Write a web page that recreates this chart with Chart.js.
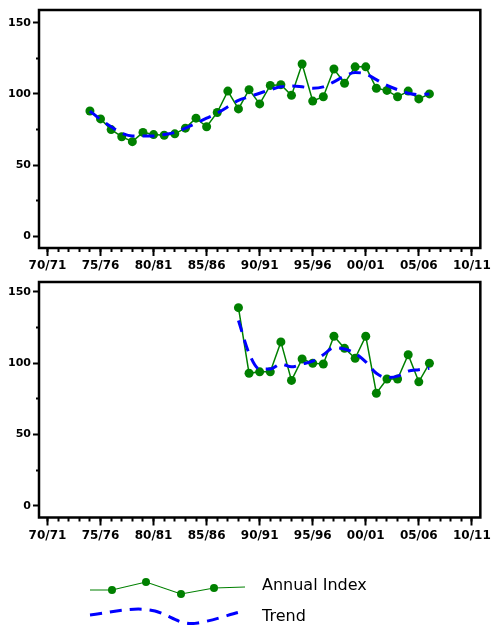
<!DOCTYPE html>
<html>
<head>
<meta charset="utf-8">
<script src="https://cdn.jsdelivr.net/npm/chart.js@4.4.1/dist/chart.umd.min.js"></script>
<style>
  body { margin: 0; background: #fff; }
  #page { position: relative; width: 494px; height: 625px; overflow: hidden; }
  canvas { position: absolute; left: 0; }
</style>
</head>
<body>
<div id="page">
  <canvas id="topChart" width="494" height="280" style="top:0"></canvas>
  <canvas id="bottomChart" width="494" height="280" style="top:272px"></canvas>
  <canvas id="legend" width="494" height="65" style="top:560px"></canvas>
</div>
<script>
// x axis: financial years
const xTickYears = [1970, 1975, 1980, 1985, 1990, 1995, 2000, 2005, 2010];
const xTickLabels = ["70/71", "75/76", "80/81", "85/86", "90/91", "95/96", "00/01", "05/06", "10/11"];
const yTicks = [0, 50, 100, 150];
const yMinorTicks = [25, 75, 125];

// upper panel
const topYears = [1974, 1975, 1976, 1977, 1978, 1979, 1980, 1981, 1982, 1983, 1984,
  1985, 1986, 1987, 1988, 1989, 1990, 1991, 1992, 1993, 1994, 1995,
  1996, 1997, 1998, 1999, 2000, 2001, 2002, 2003, 2004, 2005, 2006];
const topIndex = [88, 82.5, 75, 70, 66.5, 73, 71.5, 71, 72, 76, 83,
  77, 87, 102, 89.5, 103, 93, 106, 106.5, 99, 121, 95,
  98, 117.5, 107.5, 119, 119, 104, 102.5, 98, 102, 96.5, 100];
const topTrend = [88, 82, 77, 72.5, 70.5, 70.5, 70.5, 71.5, 73, 76, 79.5,
  83, 86.5, 91, 95.5, 98, 100.5, 103, 105, 105.5, 105, 104,
  105, 108.5, 112.5, 115, 114, 110, 106, 103, 100.5, 99.5, 100];

// lower panel
const botYears = [1988, 1989, 1990, 1991, 1992, 1993, 1994, 1995, 1996, 1997,
  1998, 1999, 2000, 2001, 2002, 2003, 2004, 2005, 2006];
const botIndex = [139, 93, 94, 94, 115, 88, 103, 100, 99.5, 119,
  110.5, 103.5, 119, 79, 89, 89, 106, 87, 100];
const botTrend = [130, 107, 96, 96, 99.5, 97.5, 99.5, 101.5, 106, 111,
  110, 107, 101, 93, 90, 91, 94.5, 95.5, 96.5];

const GREEN = "#008000";
const BLUE = "#0000ff";

const framePlugin = {
  id: "frame",
  afterDraw(chart) {
    const a = chart.chartArea, ctx = chart.ctx;
    ctx.save();
    ctx.strokeStyle = "#000";
    ctx.lineWidth = 2.5;
    ctx.strokeRect(a.left, a.top, a.right - a.left, a.bottom - a.top);
    ctx.restore();
  }
};

function pts(years, vals) {
  return years.map((y, i) => ({ x: y, y: vals[i] }));
}

function makeChart(id, years, index, trend, yMin, yMax, topPad, xHeight) {
  const xMin = 1969.2, xMax = 2010.8;
  new Chart(document.getElementById(id), {
    type: "line",
    data: {
      datasets: [
        {
          label: "Trend",
          data: pts(years, trend),
          borderColor: BLUE,
          borderWidth: 3,
          borderDash: [12, 8],
          pointRadius: 0,
          cubicInterpolationMode: "monotone",
          order: 0
        },
        {
          label: "Annual Index",
          data: pts(years, index),
          borderColor: GREEN,
          backgroundColor: GREEN,
          borderWidth: 1.5,
          pointRadius: 4.5,
          pointBackgroundColor: GREEN,
          pointBorderWidth: 0,
          tension: 0,
          order: 1
        }
      ]
    },
    options: {
      responsive: false,
      animation: false,
      layout: { padding: { top: topPad, right: 11, left: 0, bottom: 0 } },
      plugins: { legend: { display: false }, tooltip: { enabled: false } },
      scales: {
        x: {
          type: "linear", position: "bottom", min: xMin, max: xMax, weight: 1,
          afterBuildTicks: s => { s.ticks = xTickYears.map(v => ({ value: v })); },
          ticks: {
            callback: (v, i) => xTickLabels[i],
            color: "#000", padding: 3, maxRotation: 0, autoSkip: false,
            font: { family: "DejaVu Sans", weight: "bold", size: 12 }
          },
          grid: { drawOnChartArea: false, tickLength: 8, tickWidth: 2, tickColor: "#000" },
          border: { display: false },
          afterFit: s => { s.height = xHeight; }
        },
        xMinor: {
          type: "linear", position: "bottom", min: xMin, max: xMax, weight: 0,
          afterBuildTicks: s => {
            const out = [];
            for (let v = xTickYears[0]; v <= xTickYears[xTickYears.length - 1]; v++) out.push({ value: v });
            s.ticks = out;
          },
          ticks: { display: false },
          grid: { drawOnChartArea: false, tickLength: 4, tickWidth: 2, tickColor: "#000" },
          border: { display: false },
          afterFit: s => { s.height = 0; }
        },
        y: {
          type: "linear", position: "left", min: yMin, max: yMax, weight: 1,
          afterBuildTicks: s => { s.ticks = yTicks.map(v => ({ value: v })); },
          ticks: {
            color: "#000", padding: 2,
            font: { family: "DejaVu Sans", weight: "bold", size: 11 }
          },
          grid: { drawOnChartArea: false, tickLength: 6, tickWidth: 2, tickColor: "#000" },
          border: { display: false },
          afterFit: s => { s.width = 39; }
        },
        yMinor: {
          type: "linear", position: "left", min: yMin, max: yMax, weight: 0,
          afterBuildTicks: s => { s.ticks = yMinorTicks.map(v => ({ value: v })); },
          ticks: { display: false },
          grid: { drawOnChartArea: false, tickLength: 3, tickWidth: 2, tickColor: "#000" },
          border: { display: false },
          afterFit: s => { s.width = 0; }
        }
      }
    },
    plugins: [framePlugin]
  });
}

makeChart("topChart", topYears, topIndex, topTrend, -8.1, 158.9, 10, 32);
makeChart("bottomChart", botYears, botIndex, botTrend, -8.1, 157, 10, 34.5);

// legend with line samples
function drawLegend() {
  const ctx = document.getElementById("legend").getContext("2d");
  // Annual Index sample
  ctx.strokeStyle = GREEN;
  ctx.lineWidth = 1.2;
  const g = [[90, 30], [112, 30], [146, 22], [181, 34], [214, 28], [245, 27]];
  ctx.beginPath();
  g.forEach((p, i) => i ? ctx.lineTo(p[0], p[1]) : ctx.moveTo(p[0], p[1]));
  ctx.stroke();
  ctx.fillStyle = GREEN;
  g.slice(1, 5).forEach(p => { ctx.beginPath(); ctx.arc(p[0], p[1], 4, 0, Math.PI * 2); ctx.fill(); });
  // Trend sample
  ctx.strokeStyle = BLUE;
  ctx.lineWidth = 3;
  ctx.setLineDash([12, 8]);
  ctx.beginPath();
  ctx.moveTo(90, 55);
  ctx.bezierCurveTo(115, 52, 135, 46, 155, 51);
  ctx.bezierCurveTo(172, 56, 180, 66, 198, 63);
  ctx.bezierCurveTo(215, 60, 228, 55, 240, 52);
  ctx.stroke();
  ctx.setLineDash([]);
  ctx.fillStyle = "#000";
  ctx.font = "16px 'DejaVu Sans'";
  ctx.textBaseline = "middle";
  ctx.fillText("Annual Index", 262, 26);
  ctx.fillText("Trend", 262, 57);
}
drawLegend();
</script>
</body>
</html>
